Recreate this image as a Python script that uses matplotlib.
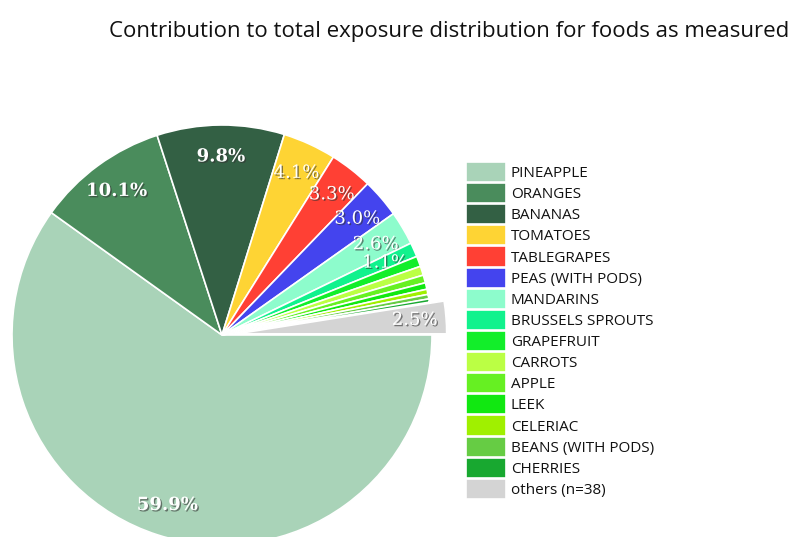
import matplotlib
matplotlib.use("Agg")
import matplotlib.pyplot as plt
import matplotlib.patheffects as pe

# Foods and their share (%) of the total exposure
FOODS = [
    "PINEAPPLE", "ORANGES", "BANANAS", "TOMATOES", "TABLEGRAPES",
    "PEAS (WITH PODS)", "MANDARINS", "BRUSSELS SPROUTS", "GRAPEFRUIT",
    "CARROTS", "APPLE", "LEEK", "CELERIAC", "BEANS (WITH PODS)",
    "CHERRIES", "others (n=38)",
]
SHARES = [59.9, 10.1, 9.8, 4.1, 3.3, 3.0, 2.6, 1.1, 0.8, 0.7, 0.6, 0.5,
          0.4, 0.35, 0.25, 2.5]
COLORS = [
    "#a9d3b8", "#4a8c5c", "#336044", "#fed434", "#ff4034", "#4444ee",
    "#8dfccc", "#11f28d", "#12ee2a", "#bbff44", "#66f022", "#11e811",
    "#a0f000", "#66cc44", "#18a830", "#d4d4d4",
]
EXPLODE = [0.0] * (len(FOODS) - 1) + [0.07]

TITLE = "Contribution to total exposure distribution for foods as measured"

W, H = 789, 537
CX, CY, R = 222, 202, 210  # pie centre / radius in pixels (bottom origin)

fig = plt.figure(figsize=(W / 100, H / 100), dpi=100)
ax = fig.add_axes([0, 0, 1, 1])


def fmt(pct):
    return f"{pct:.1f}%" if pct >= 1.0 else ""


wedges, texts, autotexts = ax.pie(
    SHARES,
    colors=COLORS,
    explode=EXPLODE,
    startangle=0,
    counterclock=False,
    autopct=fmt,
    pctdistance=0.85,
    radius=1.0,
    wedgeprops=dict(edgecolor="white", linewidth=1.2),
)

# each label drawn right after its own wedge (later wedges may cover it)
shadow = [pe.SimplePatchShadow(offset=(1, -1), shadow_rgbFace="#333333", alpha=0.6),
          pe.Normal()]
for i, (w, t) in enumerate(zip(wedges, autotexts)):
    w.set_zorder(1 + 2 * i)
    t.set_zorder(2 + 2 * i)
    t.set_color("white")
    t.set_family("DejaVu Serif")
    t.set_fontsize(13)
    t.set_weight("bold" if SHARES[i] >= 5 else "normal")
    t.set_path_effects(shadow)

ax.set_xlim(-CX / R, (W - CX) / R)
ax.set_ylim(-CY / R, (H - CY) / R)
ax.set_aspect("auto")
ax.axis("off")

fig.text(449 / W, 1 - 31 / H, TITLE, ha="center", va="center",
         fontsize=16, family="Open Sans", color="#111111")

leg = ax.legend(
    wedges, FOODS,
    loc="upper left",
    bbox_to_anchor=(466 / W, 1 - 162 / H),
    bbox_transform=fig.transFigure,
    frameon=False,
    borderpad=0,
    borderaxespad=0,
    handlelength=2.6,
    handleheight=1.65,
    handletextpad=0.33,
    labelspacing=0.065,
    prop=dict(family="Open Sans", size=11),
)
for t in leg.get_texts():
    t.set_color("#111111")

fig.savefig("out.png", dpi=100)
